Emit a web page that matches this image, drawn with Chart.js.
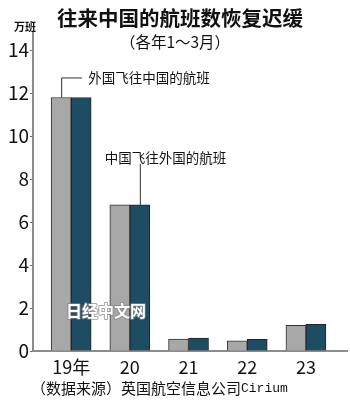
<!DOCTYPE html>
<html>
<head>
<meta charset="utf-8">
<script src="https://cdn.jsdelivr.net/npm/chart.js@4"></script>
<style>
  html, body { margin: 0; padding: 0; background: #fff; }
  canvas { display: block; }
</style>
</head>
<body>
<canvas id="flights" width="350" height="408"></canvas>
<script>
// 往来中国的航班数（各年1~3月，万班）
const years = ["19年", "20", "21", "22", "23"]
const inbound = [11.8, 6.8, 0.55, 0.47, 1.2]    // 外国飞往中国的航班
const outbound = [11.8, 6.8, 0.6, 0.54, 1.24]   // 中国飞往外国的航班
const yTicks = [0, 2, 4, 6, 8, 10, 12, 14]

const CJK = '"Noto Sans CJK SC", "Noto Sans", sans-serif'
const NARROW = '"Liberation Sans Narrow", "Noto Sans CJK SC", sans-serif'

// titles, callouts and the source line drawn straight onto the canvas
const decorations = {
  id: "decorations",
  afterDraw(chart) {
    const ctx = chart.ctx
    ctx.save()
    ctx.fillStyle = "#111"
    ctx.textBaseline = "middle"

    ctx.textAlign = "center"
    ctx.font = "bold 20.5px " + CJK
    ctx.fillText("往来中国的航班数恢复迟缓", 180, 18)
    ctx.font = "15.5px " + CJK
    ctx.fillText("（各年1～3月）", 175, 42)

    ctx.textAlign = "left"
    ctx.font = "bold 11px " + CJK
    ctx.fillText("万班", 14, 27)

    // callout: gray bar of the first year
    const a = chart.getDatasetMeta(0).data[0]
    ctx.strokeStyle = "#333"
    ctx.lineWidth = 1
    ctx.beginPath()
    ctx.moveTo(a.x + 0.5, a.y)
    ctx.lineTo(a.x + 0.5, a.y - 20 + 0.5)
    ctx.lineTo(a.x + 21, a.y - 20 + 0.5)
    ctx.stroke()
    ctx.font = "13.5px " + CJK
    ctx.fillText("外国飞往中国的航班", a.x + 27, a.y - 20)

    // callout: dark bar of 2020
    const b = chart.getDatasetMeta(1).data[1]
    ctx.beginPath()
    ctx.moveTo(b.x + 0.5, b.y)
    ctx.lineTo(b.x + 0.5, b.y - 41)
    ctx.stroke()
    ctx.fillText("中国飞往外国的航班", b.x - 35, b.y - 47)

    // watermark
    ctx.font = "bold 16px " + CJK
    ctx.lineJoin = "round"
    ctx.strokeStyle = "rgba(130,130,130,0.7)"
    ctx.lineWidth = 2
    ctx.strokeText("日经中文网", 66, 311)
    ctx.fillStyle = "#fff"
    ctx.fillText("日经中文网", 66, 311)

    ctx.fillStyle = "#111"
    ctx.font = "15px " + CJK
    const src = "（数据来源）英国航空信息公司"
    ctx.fillText(src, 31, 388)
    const w = ctx.measureText(src).width
    ctx.font = "13px \"Liberation Mono\", monospace"
    ctx.fillText("Cirium", 31 + w, 389)
    ctx.restore()
  }
}

new Chart(document.getElementById("flights"), {
  type: "bar",
  data: {
    datasets: [
      {
        label: "外国飞往中国的航班",
        data: inbound.map((v, i) => ({ x: i, y: v })),
        backgroundColor: "#a8a8a8",
        borderColor: "#333",
        borderWidth: 1,
        barThickness: 20
      },
      {
        label: "中国飞往外国的航班",
        data: outbound.map((v, i) => ({ x: i, y: v })),
        backgroundColor: "#1e4c63",
        borderColor: "#222",
        borderWidth: 1,
        barThickness: 20
      }
    ]
  },
  options: {
    responsive: false,
    animation: false,
    layout: { padding: { top: 33, right: 3, left: 0, bottom: 0 } },
    plugins: { legend: { display: false }, tooltip: { enabled: false } },
    scales: {
      x: {
        type: "linear",
        offset: false,
        min: -0.65,
        max: 4.7,
        afterBuildTicks: s => { s.ticks = years.map((_, i) => ({ value: i })) },
        afterFit: s => { s.height = 57 },
        grid: { display: false, drawTicks: false },
        border: { color: "#8c8c8c", width: 2 },
        ticks: {
          padding: 5,
          color: "#111",
          font: { family: NARROW, size: 18 },
          callback: v => years[v]
        }
      },
      y: {
        min: 0,
        max: 14.8,
        afterBuildTicks: s => { s.ticks = yTicks.map(v => ({ value: v })) },
        afterFit: s => { s.width = 33 },
        grid: { drawOnChartArea: false, tickLength: 3, color: "#666" },
        border: { color: "#8c8c8c", width: 2 },
        ticks: {
          padding: 1,
          color: "#111",
          font: { family: NARROW, size: 19 }
        }
      }
    }
  },
  plugins: [decorations]
})
</script>
</body>
</html>
